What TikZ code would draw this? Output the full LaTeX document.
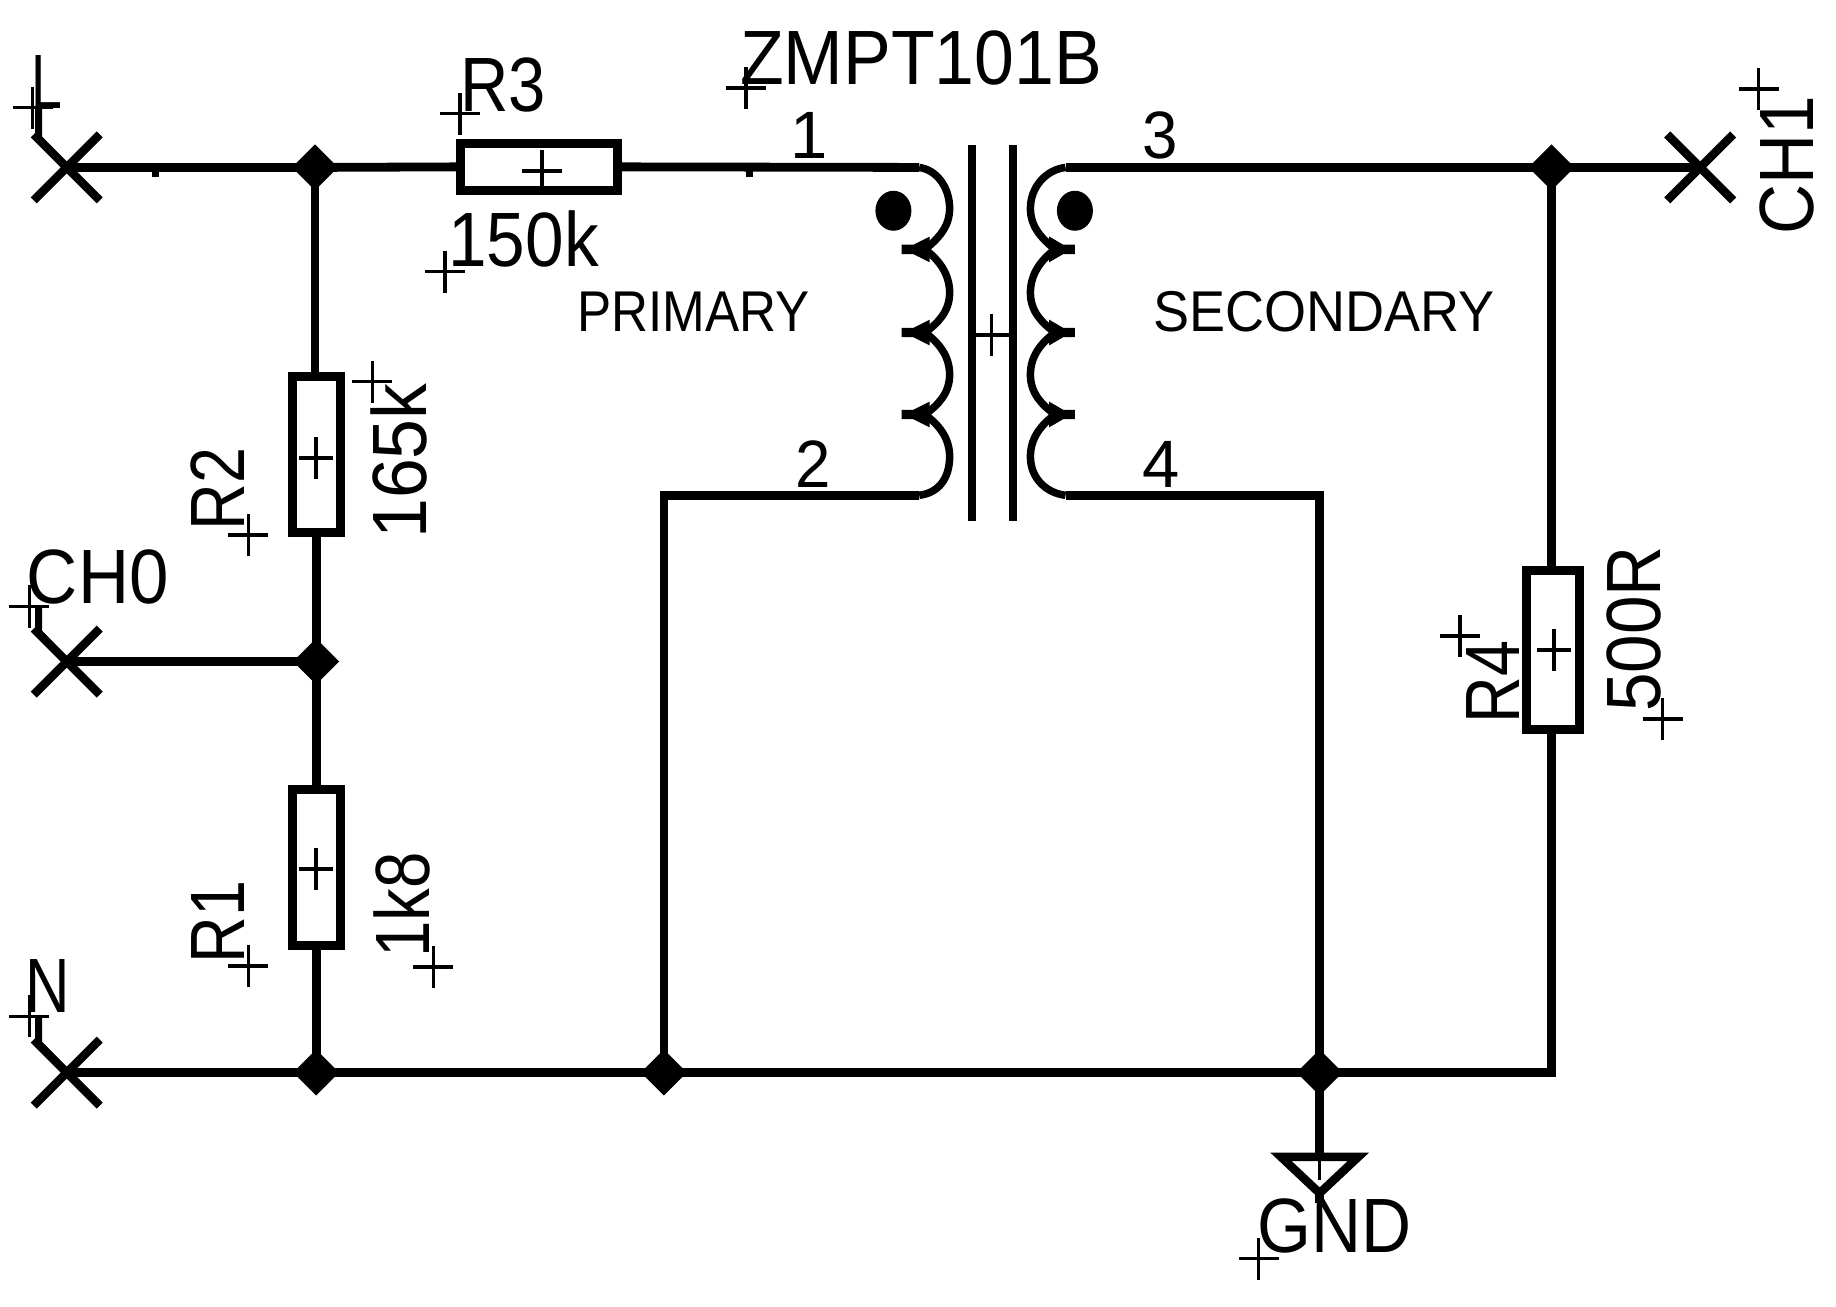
\documentclass[tikz,border=0pt]{standalone}
\usepackage{fontspec}
\usepackage{graphicx}
\setmainfont{Liberation Sans}
\usetikzlibrary{shapes.geometric,shapes.misc}
\newcommand{\xs}[2]{\scalebox{#1}[1]{#2}}
\newcommand{\plusmark}[1]{\draw[plusline] (#1)+(-17,0)--+(17,0) (#1)+(0,-18)--+(0,18);}
\newcommand{\plusnarrow}[1]{\draw[plusline] (#1)+(-14.5,0)--+(14.5,0) (#1)+(0,-18)--+(0,18);}
\begin{document}
\begin{tikzpicture}[x=1.171pt,y=-1.171pt,
  wire/.style={line width=8.8pt,line join=miter},
  plusline/.style={line width=3.4pt},
  res/.style={draw,line width=9pt,inner sep=0pt,outer sep=0pt,fill=none},
  junc/.style={diamond,fill=black,inner sep=0pt,outer sep=0pt,minimum width=46pt,minimum height=46pt},
  pin/.style={cross out,draw,line width=8.5pt,inner sep=0pt,outer sep=0pt,minimum width=66pt,minimum height=66pt},
  big/.style={inner sep=0pt,outer sep=0pt,anchor=base west,font=\fontsize{77}{77}\selectfont},
  mid/.style={inner sep=0pt,outer sep=0pt,anchor=base west,font=\fontsize{67}{67}\selectfont},
  small/.style={inner sep=0pt,outer sep=0pt,anchor=base west,font=\fontsize{57.5}{58}\selectfont},
  dotm/.style={ellipse,fill=black,inner sep=0pt,outer sep=0pt,minimum width=36pt,minimum height=40pt}]
\useasboundingbox (0,0) rectangle (1568,1116.2);
% terminals
\node[pin] (xL) at (57,143) {};
\node[pin] (xC) at (57,565) {};
\node[pin] (xN) at (57,916) {};
\node[pin] (xO) at (1452,143) {};
% junctions
\node[junc] (j1) at (269,143) {};
\node[junc] (j2) at (270,565) {};
\node[junc] (j3) at (270,916) {};
\node[junc] (j4) at (567,916) {};
\node[junc] (j5) at (1127,916) {};
\node[junc] (j6) at (1325,143) {};
% resistors
\node[res,minimum width=157pt,minimum height=47pt] (R3) at (460.5,142.5) {};
\node[res,minimum width=48pt,minimum height=156pt] (R2) at (270,388) {};
\node[res,minimum width=48pt,minimum height=156pt] (R1) at (270,741) {};
\node[res,minimum width=53pt,minimum height=159pt] (R4) at (1326,555.5) {};
% coordinates
\coordinate (p1) at (785,143);
\coordinate (p2) at (785,423);
\coordinate (p3) at (910,143);
\coordinate (p4) at (910,423);
\coordinate (c2) at (1325,916);
\coordinate (gt) at (1127,985);
\coordinate (gl) at (1094,988);
\coordinate (gr) at (1160,988);
\coordinate (gb) at (1127,1019);
\coordinate (sL) at (33,93);
\coordinate (sC) at (33,518);
\coordinate (sN) at (33,868);
% wires
\draw[wire] (xL.center) -- (j1.center) -- (R3.west);
\draw[wire] (R3.east) -- (p1);
\draw[wire] (j1.center) -- (j1.center |- R2.north);
\draw[wire] (R2.south) -- (j2.center) -- (R1.north);
\draw[wire] (R1.south) -- (j3.center);
\draw[wire] (xC.center) -- (j2.center);
\draw[wire] (xN.center) -- (j3.center) -- (j4.center) -- (j5.center) -- (c2) -- (c2 |- R4.south);
\draw[wire] (j6.center |- R4.north) -- (j6.center);
\draw[wire] (p3) -- (j6.center) -- (xO.center);
\draw[wire] (p2) -| (j4.center);
\draw[wire] (p4) -| (j5.center);
\draw[wire] (j5.center) -- (gt);
\draw[line width=8.5pt,line join=miter] (gl) -- (gr) -- (gb) -- cycle;
\draw[wire] (gb) -- +(0,8);
\draw[line width=7pt] (sL) -- (33,118) -- (xL.center);
\draw[line width=7pt] (sC) -- (33,540) -- (xC.center);
\draw[line width=7pt] (sN) -- (33,891) -- (xN.center);
\fill (130,143) rectangle (136,151);
\fill (637,143) rectangle (643,151);
% transformer core
\coordinate (k1) at (830,124); \coordinate (k2) at (830,445);
\coordinate (k3) at (865,124); \coordinate (k4) at (865,445);
\coordinate (kc) at (847,286);
\draw[line width=7.5pt] (k1) -- (k2) (k3) -- (k4);
% coils
\draw[line width=7.5pt]
  (p1) .. controls (800,145) and (811,160) .. (811,178) .. controls (811,194) and (801,204) .. (790,213)
  .. controls (802,222) and (811,234) .. (811,250) .. controls (811,266) and (801,276) .. (790,284)
  .. controls (802,293) and (811,304) .. (811,320) .. controls (811,336) and (801,346) .. (790,354)
  .. controls (802,363) and (811,374) .. (811,390) .. controls (811,408) and (802,421) .. (p2);
\draw[line width=7.5pt]
  (p3) .. controls (893,145) and (880,160) .. (880,178) .. controls (880,194) and (890,204) .. (901,213)
  .. controls (889,222) and (880,234) .. (880,250) .. controls (880,266) and (890,276) .. (901,284)
  .. controls (889,293) and (880,304) .. (880,320) .. controls (880,336) and (890,346) .. (901,354)
  .. controls (889,363) and (880,374) .. (880,390) .. controls (880,408) and (893,421) .. (p4);
\foreach \yy in {213,284,354}{
  \fill (770,\yy-4) -- (780,\yy-4) -- (794,\yy-11) -- (794,\yy+11) -- (780,\yy+4) -- (770,\yy+4) -- cycle;
  \fill (918,\yy-4) -- (908,\yy-4) -- (896,\yy-11) -- (896,\yy+11) -- (908,\yy+4) -- (918,\yy+4) -- cycle;
}
\node[dotm] (d1) at (763,180) {};
\node[dotm] (d2) at (918,180) {};
% origin marks
\plusmark{463,146}
\plusnarrow{270,391}
\plusnarrow{270,742}
\plusnarrow{1327,555}
\plusmark{847,286}
\plusmark{393,97}
\plusmark{380,232}
\plusmark{318,326}
\plusmark{212,457}
\plusmark{25,518}
\plusmark{370,826}
\plusmark{212,825}
\plusmark{25,868}
\plusmark{28,92}
\plusmark{637,75}
\plusmark{1247,543}
\plusmark{1420,614}
\plusmark{1502,76}
\plusmark{1075,1075}
\draw[plusline] (1127,990) -- (1127,1008);
% labels
\node[big] (tZ) at (632,72) {\xs{0.93}{ZMPT101B}};
\node[big] (tR3) at (393,95) {\xs{0.87}{R3}};
\node[big] (t150) at (383,228) {\xs{0.9}{150k}};
\node[big] (tL) at (27,93) {\xs{0.72}{L}};
\node[big] (tCH0) at (23,515) {\xs{0.92}{CH0}};
\node[big] (tN) at (22,865) {\xs{0.8}{N}};
\node[big] (tGND) at (1074,1070) {\xs{0.9}{GND}};
\node[big,rotate=90] (t165) at (364,460) {\xs{0.93}{165k}};
\node[big,rotate=90] (tR2) at (209,453) {\xs{0.84}{R2}};
\node[big,rotate=90] (t1k8) at (367,818) {\xs{0.85}{1k8}};
\node[big,rotate=90] (tR1) at (209,823) {\xs{0.84}{R1}};
\node[big,rotate=90] (tR4) at (1298,618) {\xs{0.84}{R4}};
\node[big,rotate=90] (t500) at (1418,608) {\xs{0.9}{500R}};
\node[big,rotate=90] (tCH1) at (1549,200) {\xs{0.9}{CH1}};
\node[small] (tP) at (493,283) {\xs{0.89}{PRIMARY}};
\node[small] (tS) at (985,283) {\xs{0.94}{SECONDARY}};
\node[mid] (n1) at (675,135) {\xs{1}{1}};
\node[mid] (n2) at (679,416) {\xs{0.95}{2}};
\node[mid] (n3) at (976,135) {\xs{0.95}{3}};
\node[mid] (n4) at (976,416) {\xs{1}{4}};
\end{tikzpicture}
\end{document}
